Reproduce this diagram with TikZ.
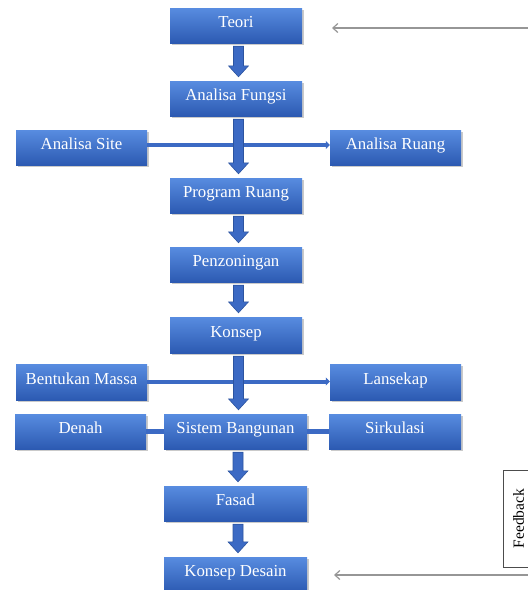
\documentclass[tikz,border=0pt]{standalone}
\usepackage{fontspec}
\setmainfont{Liberation Serif}
\usetikzlibrary{calc,shadows,arrows.meta}
\definecolor{boxtop}{RGB}{88,140,224}
\definecolor{boxbot}{RGB}{44,90,178}
\definecolor{arrfill}{RGB}{60,106,196}
\definecolor{arredge}{RGB}{44,84,160}
\definecolor{fbgray}{RGB}{150,150,150}
\tikzset{
  stepbox/.style={rectangle, inner sep=0pt, minimum height=35pt,
    top color=boxtop, bottom color=boxbot, draw=none,
    drop shadow={shadow xshift=1.5pt, shadow yshift=-1.5pt, opacity=0.35, fill=black!60},
    text=white, font=\fontsize{16.8}{20}\selectfont,
    text height=12pt, text depth=8pt},
  wide/.style={minimum width=132pt},
  wider/.style={minimum width=143pt},
  blockarrow/.style={fill=arrfill, draw=arredge, line width=0.6pt, line join=miter},
  hline/.style={draw=arrfill, line width=4.5pt},
  harrow/.style={draw=arrfill, line width=4pt, -{Triangle[length=4pt,width=8pt]}},
  fbline/.style={draw=fbgray, line width=1.2pt, -{Straight Barb[length=5pt,width=9pt]}},
  fbbox/.style={draw=black!70, line width=0.8pt, fill=white, minimum width=97pt,
    minimum height=30pt, rotate=90, font=\fontsize{15.5}{18}\selectfont}
}
\newcommand{\blockarr}[2]{%
  \path[blockarrow] let \p1=(#1.south), \p2=(#2.north) in
    (\x1-2.5pt, \y1-3pt) -- (\x1+7.5pt, \y1-3pt) -- (\x1+7.5pt, \y2+15pt)
    -- (\x1+12.5pt, \y2+15pt) -- (\x1+2.5pt, \y2+4pt) -- (\x1-7.5pt, \y2+15pt)
    -- (\x1-2.5pt, \y2+15pt) -- cycle;}
\begin{document}
\begin{tikzpicture}[x=1pt,y=-1pt]
\useasboundingbox (0,0) rectangle (528,590);
% main column
\node[stepbox,wide] (teori) at (236,25.5) {Teori};
\node[stepbox,wide] (fungsi) at (236,98.5) {Analisa Fungsi};
\node[stepbox,minimum width=131pt] (site) at (81.5,147.5) {Analisa Site};
\node[stepbox,minimum width=131pt] (ruang) at (395.5,147.5) {Analisa Ruang};
\node[stepbox,wide] (program) at (236,195.5) {Program Ruang};
\node[stepbox,wide] (zoning) at (236,264.5) {Penzoningan};
\node[stepbox,wide,minimum height=36pt] (konsep) at (236,335) {Konsep};
\node[stepbox,minimum width=131pt,minimum height=36pt] (massa) at (81.5,382) {Bentukan Massa};
\node[stepbox,minimum width=131pt,minimum height=36pt] (lansekap) at (395.5,382) {Lansekap};
\node[stepbox,minimum width=131pt] (denah) at (80.5,431.5) {Denah};
\node[stepbox,wider] (sistem) at (235.5,431.5) {Sistem Bangunan};
\node[stepbox,wide] (sirkulasi) at (395,431.5) {Sirkulasi};
\node[stepbox,wider] (fasad) at (235.5,503.5) {Fasad};
\node[stepbox,wider] (desain) at (235.5,574.5) {Konsep Desain};
% horizontal connectors
\draw[harrow] ([yshift=2.5pt]site.east) -- ([yshift=2.5pt]ruang.west);
\draw[harrow] ([yshift=0.5pt]massa.east) -- ([yshift=0.5pt]lansekap.west);
\draw[hline] (denah.east) -- (sistem.west);
\draw[hline] (sistem.east) -- (sirkulasi.west);
% block arrows
\blockarr{teori}{fungsi}
\blockarr{fungsi}{program}
\blockarr{program}{zoning}
\blockarr{zoning}{konsep}
\blockarr{konsep}{sistem}
\blockarr{sistem}{fasad}
\blockarr{fasad}{desain}
% feedback
\node[fbbox] (fb) at (518.5,518.5) {Feedback};
\coordinate (fbtopstart) at (530,28);
\coordinate (fbtopend) at (332,28);
\coordinate (fbbotstart) at (530,575);
\coordinate (fbbotend) at (334,575);
\draw[fbline] (fbtopstart) -- (fbtopend);
\draw[fbline] (fbbotstart) -- (fbbotend);
\end{tikzpicture}
\end{document}
